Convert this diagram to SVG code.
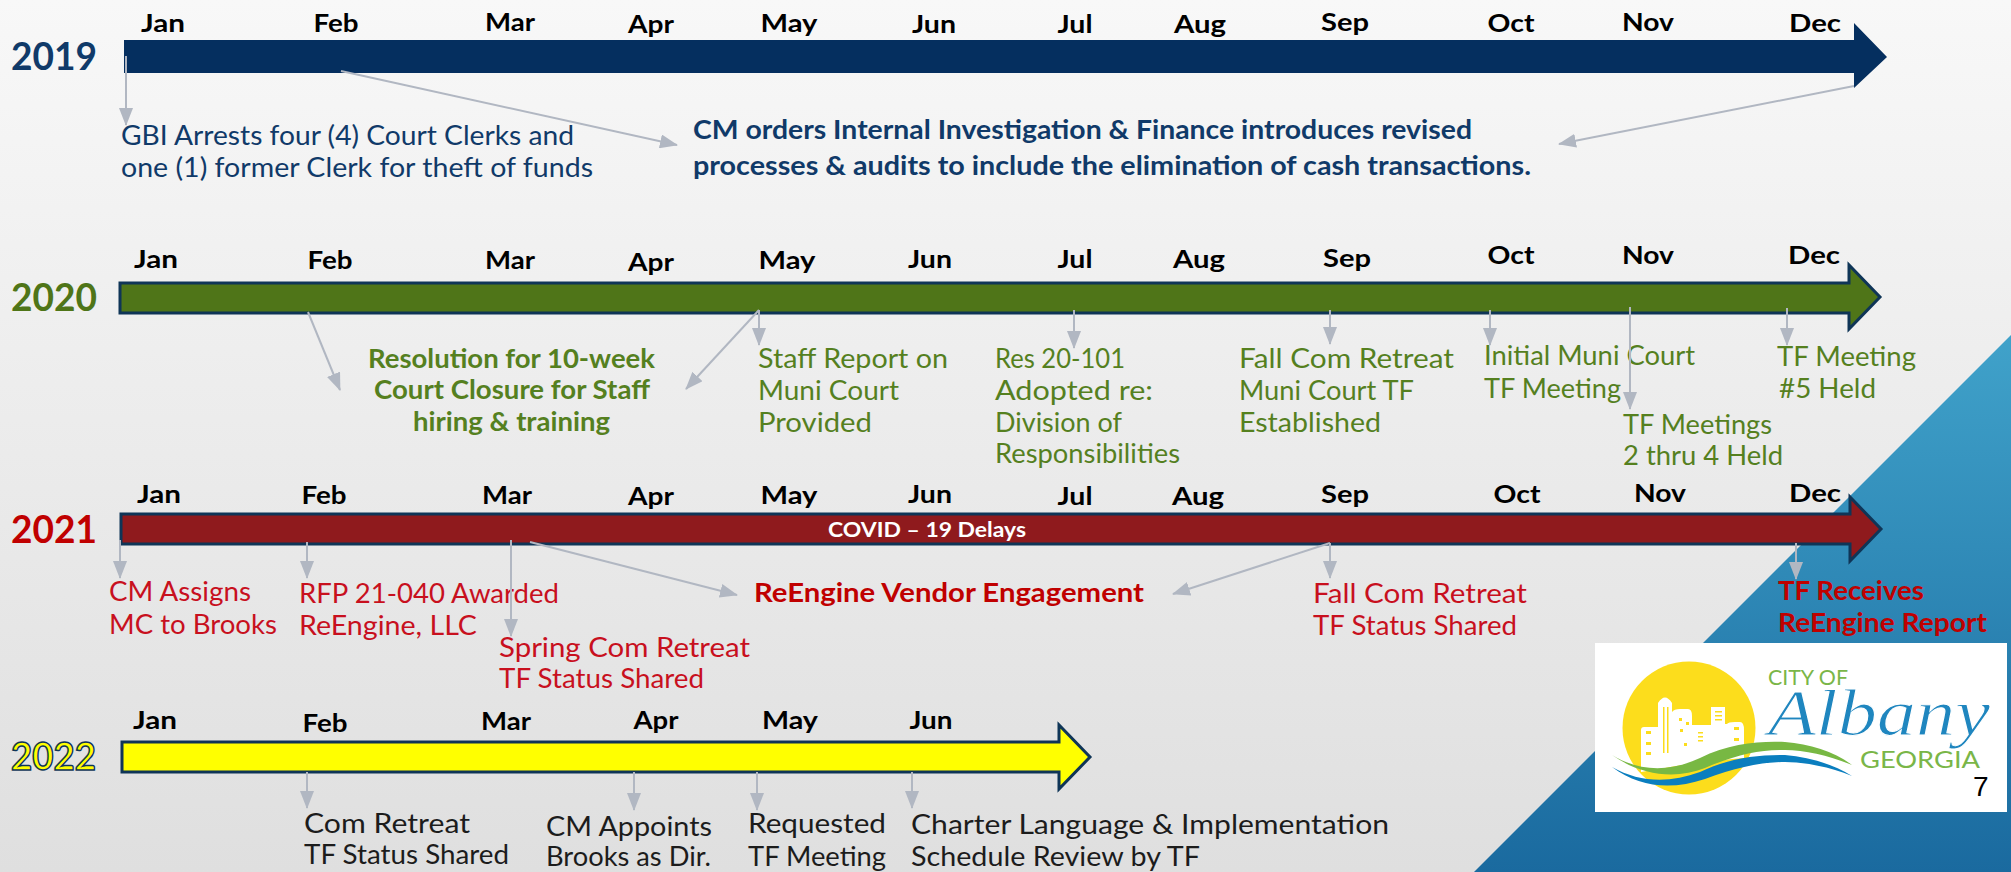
<svg xmlns="http://www.w3.org/2000/svg" width="2011" height="872" viewBox="0 0 2011 872">
<style>
text{font-family:"Lato","Open Sans","Liberation Sans",sans-serif}
.m{font-weight:700;font-size:25px;fill:#000;text-anchor:middle}
.t{font-weight:400;font-size:27px}
.b{font-weight:700;font-size:27px}
.y{font-weight:700;font-size:39px}
.nv{fill:#103a69}.gn{fill:#55801f}.rd{fill:#c8101e}.dk{fill:#1c1c1c}
.bar{stroke:#0f3557;stroke-width:3;stroke-linejoin:miter}
.c{stroke:#b1b7c2;stroke-width:2;fill:none;marker-end:url(#ah)}
.win{fill:#fcdd1c}
</style>
<defs>
<linearGradient id="bg" x1="0" y1="0" x2="0" y2="1"><stop offset="0" stop-color="#f8f8f8"/><stop offset="1" stop-color="#dfdfdf"/></linearGradient>
<linearGradient id="bl" x1="0" y1="0" x2="0" y2="1"><stop offset="0" stop-color="#40a2ca"/><stop offset="1" stop-color="#1a6a9f"/></linearGradient>
<marker id="ah" markerUnits="userSpaceOnUse" markerWidth="18" markerHeight="14" refX="17" refY="7" orient="auto"><path d="M0 0L18 7L0 14Z" fill="#b1b7c2"/></marker>
</defs>
<rect width="2011" height="872" fill="url(#bg)"/>
<path d="M2011 335V872H1474Z" fill="url(#bl)"/>

<g id="row-2019">
<path d="M124 40H1854V23L1887 57L1854 88V73H124Z" fill="#052f5f"/>
<text class="y nv" x="11" y="70" textLength="86" lengthAdjust="spacingAndGlyphs">2019</text>
<g>
<text class="m" x="163" y="32" textLength="44" lengthAdjust="spacingAndGlyphs">Jan</text><text class="m" x="336" y="32" textLength="45" lengthAdjust="spacingAndGlyphs">Feb</text><text class="m" x="510" y="31" textLength="50" lengthAdjust="spacingAndGlyphs">Mar</text><text class="m" x="651" y="33" textLength="46" lengthAdjust="spacingAndGlyphs">Apr</text><text class="m" x="789" y="32" textLength="57" lengthAdjust="spacingAndGlyphs">May</text><text class="m" x="934" y="33" textLength="44" lengthAdjust="spacingAndGlyphs">Jun</text><text class="m" x="1075" y="33" textLength="35" lengthAdjust="spacingAndGlyphs">Jul</text><text class="m" x="1200" y="33" textLength="52" lengthAdjust="spacingAndGlyphs">Aug</text><text class="m" x="1345" y="31" textLength="48" lengthAdjust="spacingAndGlyphs">Sep</text><text class="m" x="1511" y="32" textLength="47" lengthAdjust="spacingAndGlyphs">Oct</text><text class="m" x="1648" y="31" textLength="52" lengthAdjust="spacingAndGlyphs">Nov</text><text class="m" x="1815" y="32" textLength="52" lengthAdjust="spacingAndGlyphs">Dec</text>
</g>
<g id="n-2019-arrests"><text class="t nv" x="121" y="145" textLength="453" lengthAdjust="spacingAndGlyphs">GBI Arrests four (4) Court Clerks and</text><text class="t nv" x="121" y="177" textLength="472" lengthAdjust="spacingAndGlyphs">one (1) former Clerk for theft of funds</text></g>
<g id="n-2019-cm"><text class="b nv" x="693" y="139" textLength="779" lengthAdjust="spacingAndGlyphs">CM orders Internal Investigation &amp; Finance introduces revised</text><text class="b nv" x="693" y="175" textLength="838" lengthAdjust="spacingAndGlyphs">processes &amp; audits to include the elimination of cash transactions.</text></g>
</g>

<g id="row-2020">
<path class="bar" d="M120 283H1849V265L1880 297L1849 329V313H120Z" fill="#4f7518"/>
<text class="y gn" x="11" y="311" textLength="86" lengthAdjust="spacingAndGlyphs" style="fill:#4f7518">2020</text>
<g>
<text class="m" x="156" y="268" textLength="44" lengthAdjust="spacingAndGlyphs">Jan</text><text class="m" x="330" y="269" textLength="45" lengthAdjust="spacingAndGlyphs">Feb</text><text class="m" x="510" y="269" textLength="50" lengthAdjust="spacingAndGlyphs">Mar</text><text class="m" x="651" y="271" textLength="46" lengthAdjust="spacingAndGlyphs">Apr</text><text class="m" x="787" y="269" textLength="57" lengthAdjust="spacingAndGlyphs">May</text><text class="m" x="930" y="268" textLength="44" lengthAdjust="spacingAndGlyphs">Jun</text><text class="m" x="1075" y="268" textLength="35" lengthAdjust="spacingAndGlyphs">Jul</text><text class="m" x="1199" y="268" textLength="52" lengthAdjust="spacingAndGlyphs">Aug</text><text class="m" x="1347" y="267" textLength="48" lengthAdjust="spacingAndGlyphs">Sep</text><text class="m" x="1511" y="264" textLength="47" lengthAdjust="spacingAndGlyphs">Oct</text><text class="m" x="1648" y="264" textLength="52" lengthAdjust="spacingAndGlyphs">Nov</text><text class="m" x="1814" y="264" textLength="52" lengthAdjust="spacingAndGlyphs">Dec</text>
</g>
<g id="n-2020-res"><text class="b gn" x="368" y="368" textLength="287" lengthAdjust="spacingAndGlyphs">Resolution for 10-week</text><text class="b gn" x="374" y="399" textLength="276" lengthAdjust="spacingAndGlyphs">Court Closure for Staff</text><text class="b gn" x="413" y="431" textLength="197" lengthAdjust="spacingAndGlyphs">hiring &amp; training</text></g>
<g id="n-2020-staff"><text class="t gn" x="758" y="368" textLength="190" lengthAdjust="spacingAndGlyphs">Staff Report on</text><text class="t gn" x="758" y="400" textLength="141" lengthAdjust="spacingAndGlyphs">Muni Court</text><text class="t gn" x="758" y="432" textLength="114" lengthAdjust="spacingAndGlyphs">Provided</text></g>
<g id="n-2020-div"><text class="t gn" x="995" y="368" textLength="130" lengthAdjust="spacingAndGlyphs">Res 20-101</text><text class="t gn" x="995" y="400" textLength="158" lengthAdjust="spacingAndGlyphs">Adopted re:</text><text class="t gn" x="995" y="432" textLength="127" lengthAdjust="spacingAndGlyphs">Division of</text><text class="t gn" x="995" y="463" textLength="185" lengthAdjust="spacingAndGlyphs">Responsibilities</text></g>
<g id="n-2020-fall"><text class="t gn" x="1239" y="368" textLength="215" lengthAdjust="spacingAndGlyphs">Fall Com Retreat</text><text class="t gn" x="1239" y="400" textLength="175" lengthAdjust="spacingAndGlyphs">Muni Court TF</text><text class="t gn" x="1239" y="432" textLength="142" lengthAdjust="spacingAndGlyphs">Established</text></g>
<g id="n-2020-initial"><text class="t gn" x="1484" y="365" textLength="211" lengthAdjust="spacingAndGlyphs">Initial Muni Court</text><text class="t gn" x="1484" y="398" textLength="137" lengthAdjust="spacingAndGlyphs">TF Meeting</text></g>
<g id="n-2020-tf24"><text class="t gn" x="1623" y="434" textLength="149" lengthAdjust="spacingAndGlyphs">TF Meetings</text><text class="t gn" x="1623" y="465" textLength="160" lengthAdjust="spacingAndGlyphs">2 thru 4 Held</text></g>
<g id="n-2020-tf5"><text class="t gn" x="1777" y="366" textLength="139" lengthAdjust="spacingAndGlyphs">TF Meeting</text><text class="t gn" x="1779" y="398" textLength="97" lengthAdjust="spacingAndGlyphs">#5 Held</text></g>
</g>

<g id="row-2021">
<path class="bar" d="M121 514H1850V497L1881 529L1850 561V544H121Z" fill="#8f1a1d"/>
<text x="828" y="537" textLength="198" lengthAdjust="spacingAndGlyphs" style="font-weight:700;font-size:20px;fill:#fff">COVID – 19 Delays</text>
<text class="y rd" x="11" y="543" textLength="86" lengthAdjust="spacingAndGlyphs" style="fill:#c00000">2021</text>
<g>
<text class="m" x="159" y="503" textLength="44" lengthAdjust="spacingAndGlyphs">Jan</text><text class="m" x="324" y="504" textLength="45" lengthAdjust="spacingAndGlyphs">Feb</text><text class="m" x="507" y="504" textLength="50" lengthAdjust="spacingAndGlyphs">Mar</text><text class="m" x="651" y="505" textLength="46" lengthAdjust="spacingAndGlyphs">Apr</text><text class="m" x="789" y="504" textLength="57" lengthAdjust="spacingAndGlyphs">May</text><text class="m" x="930" y="503" textLength="44" lengthAdjust="spacingAndGlyphs">Jun</text><text class="m" x="1075" y="505" textLength="35" lengthAdjust="spacingAndGlyphs">Jul</text><text class="m" x="1198" y="505" textLength="52" lengthAdjust="spacingAndGlyphs">Aug</text><text class="m" x="1345" y="503" textLength="48" lengthAdjust="spacingAndGlyphs">Sep</text><text class="m" x="1517" y="503" textLength="47" lengthAdjust="spacingAndGlyphs">Oct</text><text class="m" x="1660" y="502" textLength="52" lengthAdjust="spacingAndGlyphs">Nov</text><text class="m" x="1815" y="502" textLength="52" lengthAdjust="spacingAndGlyphs">Dec</text>
</g>
<g id="n-2021-cm"><text class="t rd" x="109" y="601" textLength="142" lengthAdjust="spacingAndGlyphs">CM Assigns</text><text class="t rd" x="109" y="634" textLength="168" lengthAdjust="spacingAndGlyphs">MC to Brooks</text></g>
<g id="n-2021-rfp"><text class="t rd" x="299" y="603" textLength="260" lengthAdjust="spacingAndGlyphs">RFP 21-040 Awarded</text><text class="t rd" x="299" y="635" textLength="178" lengthAdjust="spacingAndGlyphs">ReEngine, LLC</text></g>
<g id="n-2021-spring"><text class="t rd" x="499" y="657" textLength="251" lengthAdjust="spacingAndGlyphs">Spring Com Retreat</text><text class="t rd" x="499" y="688" textLength="205" lengthAdjust="spacingAndGlyphs">TF Status Shared</text></g>
<g id="n-2021-vendor"><text class="b rd" x="754" y="602" textLength="390" lengthAdjust="spacingAndGlyphs" style="fill:#c00000">ReEngine Vendor Engagement</text></g>
<g id="n-2021-fall"><text class="t rd" x="1313" y="603" textLength="214" lengthAdjust="spacingAndGlyphs">Fall Com Retreat</text><text class="t rd" x="1313" y="635" textLength="204" lengthAdjust="spacingAndGlyphs">TF Status Shared</text></g>
<g id="n-2021-report"><text class="b" x="1778" y="600" textLength="146" lengthAdjust="spacingAndGlyphs" style="fill:#c00000">TF Receives</text><text class="b" x="1778" y="632" textLength="209" lengthAdjust="spacingAndGlyphs" style="fill:#c00000">ReEngine Report</text></g>
</g>

<g id="row-2022">
<path class="bar" d="M122 742H1059V725L1090 757L1059 789V772H122Z" fill="#ffff00"/>
<text class="y" x="11" y="770" textLength="85" lengthAdjust="spacingAndGlyphs" style="fill:#ffff00;stroke:#0f3557;stroke-width:1.5">2022</text>
<g>
<text class="m" x="155" y="729" textLength="44" lengthAdjust="spacingAndGlyphs">Jan</text><text class="m" x="325" y="732" textLength="45" lengthAdjust="spacingAndGlyphs">Feb</text><text class="m" x="506" y="730" textLength="50" lengthAdjust="spacingAndGlyphs">Mar</text><text class="m" x="656" y="729" textLength="45" lengthAdjust="spacingAndGlyphs">Apr</text><text class="m" x="790" y="729" textLength="56" lengthAdjust="spacingAndGlyphs">May</text><text class="m" x="931" y="729" textLength="43" lengthAdjust="spacingAndGlyphs">Jun</text>
</g>
<g id="n-2022-com"><text class="t dk" x="304" y="833" textLength="166" lengthAdjust="spacingAndGlyphs">Com Retreat</text><text class="t dk" x="304" y="864" textLength="205" lengthAdjust="spacingAndGlyphs">TF Status Shared</text></g>
<g id="n-2022-cm"><text class="t dk" x="546" y="836" textLength="166" lengthAdjust="spacingAndGlyphs">CM Appoints</text><text class="t dk" x="546" y="866" textLength="165" lengthAdjust="spacingAndGlyphs">Brooks as Dir.</text></g>
<g id="n-2022-req"><text class="t dk" x="748" y="833" textLength="138" lengthAdjust="spacingAndGlyphs">Requested</text><text class="t dk" x="748" y="866" textLength="138" lengthAdjust="spacingAndGlyphs">TF Meeting</text></g>
<g id="n-2022-charter"><text class="t dk" x="911" y="834" textLength="478" lengthAdjust="spacingAndGlyphs">Charter Language &amp; Implementation</text><text class="t dk" x="911" y="866" textLength="289" lengthAdjust="spacingAndGlyphs">Schedule Review by TF</text></g>
</g>

<g id="connectors">
<path class="c" d="M126 56V125"/><path class="c" d="M341 71L677 145"/><path class="c" d="M1854 86L1559 144"/>
<path class="c" d="M308 312L340 390"/><path class="c" d="M759 310L686 389"/><path class="c" d="M759 310V345"/><path class="c" d="M1074 310V348"/><path class="c" d="M1330 310V344"/><path class="c" d="M1490 310V345"/><path class="c" d="M1630 307V409"/><path class="c" d="M1787 308V345"/>
<path class="c" d="M120 540V578"/><path class="c" d="M307 542V578"/><path class="c" d="M511 540V636"/><path class="c" d="M530 542L737 595"/><path class="c" d="M1330 543L1173 594"/><path class="c" d="M1330 543V578"/><path class="c" d="M1796 543V579"/>
<path class="c" d="M307 772V808"/><path class="c" d="M634 772V810"/><path class="c" d="M757 772V810"/><path class="c" d="M912 772V808"/>
</g>

<g id="logo">
<rect x="1595" y="643" width="412" height="169" fill="#fff"/>
<circle cx="1689" cy="728" r="66.5" fill="#fcdd1c"/>
<path d="M1641 768V730Q1641 727 1644 727H1658V703Q1665 692 1672 703V712Q1674 709 1680 709H1688Q1692 709 1692 716V725H1711V707H1725V724H1727Q1728 722 1735 722H1740Q1744 722 1744 730V758L1700 762L1641 772Z" fill="#fff"/>
<g class="win"><rect x="1646" y="731" width="5" height="3"/><rect x="1646" y="742" width="5" height="3"/><rect x="1646" y="752" width="5" height="3"/><rect x="1663" y="707" width="1.5" height="46"/><rect x="1667" y="707" width="1.5" height="46"/><rect x="1679" y="718" width="3" height="3"/><rect x="1686" y="722" width="3" height="3"/><rect x="1680" y="729" width="3" height="3"/><rect x="1684" y="743" width="3" height="3"/><rect x="1698" y="732" width="5" height="1.5"/><rect x="1698" y="736" width="5" height="1.5"/><rect x="1698" y="740" width="5" height="1.5"/><rect x="1715" y="711" width="7" height="1.5"/><rect x="1715" y="715" width="7" height="1.5"/><rect x="1715" y="719" width="7" height="1.5"/><rect x="1734" y="727" width="5" height="3"/><rect x="1734" y="738" width="5" height="3"/></g>
<path d="M1612 755C1640 772 1670 772 1700 758C1730 743 1760 741 1785 742C1810 744 1835 752 1852 765C1830 756 1805 750 1785 750C1760 749 1735 755 1705 768C1675 780 1640 775 1612 755Z" fill="#78b843"/>
<path d="M1612 767C1640 783 1670 783 1700 772C1730 758 1755 755 1785 755C1810 757 1835 765 1852 776C1830 767 1805 762 1785 762C1760 762 1735 768 1705 779C1672 790 1640 788 1612 767Z" fill="#0a7ebf"/>
<text x="1768" y="685" textLength="80" lengthAdjust="spacingAndGlyphs" style="font-size:21px;fill:#7ab648">CITY OF</text>
<text x="1768" y="735" textLength="222" lengthAdjust="spacingAndGlyphs" style="font-size:66px;font-style:italic;fill:#1f86bf;stroke:#fff;stroke-width:1;font-family:'Liberation Serif',serif">Albany</text>
<text x="1860" y="768" textLength="120" lengthAdjust="spacingAndGlyphs" style="font-size:23px;fill:#7ab648">GEORGIA</text>
<text x="1973" y="796" style="font-size:28px;fill:#000;font-family:'Liberation Sans',sans-serif">7</text>
</g>
</svg>
